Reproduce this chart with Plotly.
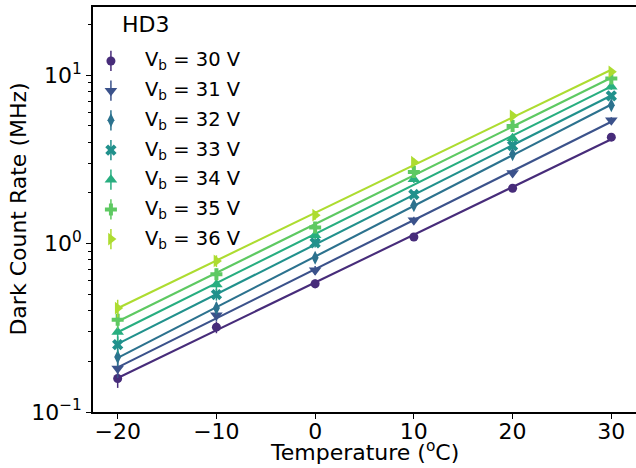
import numpy as np
import plotly.graph_objects as go

# Measured dark count rate of HD3 versus temperature for several bias voltages
temperatures = [-20, -10, 0, 10, 20, 30]  # degrees C
bias_voltages = [30, 31, 32, 33, 34, 35, 36]  # V

rate_30V = [0.158, 0.319, 0.577, 1.094, 2.13, 4.28]
rate_31V = [0.181, 0.375, 0.694, 1.375, 2.62, 5.40]
rate_32V = [0.212, 0.414, 0.823, 1.69, 3.39, 6.63]
rate_33V = [0.251, 0.498, 1.008, 1.955, 3.81, 7.53]
rate_34V = [0.298, 0.571, 1.12, 2.41, 4.21, 8.52]
rate_35V = [0.353, 0.657, 1.245, 2.66, 4.98, 9.55]
rate_36V = [0.414, 0.788, 1.473, 3.04, 5.73, 10.46]
rates = [rate_30V, rate_31V, rate_32V, rate_33V, rate_34V, rate_35V, rate_36V]

# relative uncertainty of each temperature point
rel_error = [0.12, 0.08, 0.06, 0.05, 0.05, 0.04]

colors = ["#472c7a", "#3b528b", "#2c728e", "#21918c", "#28ae80", "#5ec962", "#addc30"]
symbols = ["circle", "triangle-down", "diamond-tall", "x", "triangle-up", "cross", "triangle-right"]
sizes = [9, 11, 10, 10, 11, 10, 11]

FONT = "DejaVu Sans"
FS_AX = 22     # tick labels, axis titles, legend title
FS_LEG = 19.5  # legend entries

fig = go.Figure()

T = np.array(temperatures, dtype=float)

# exponential fits (straight lines on the log axis)
for vals, col in zip(rates, colors):
    slope, icpt = np.polyfit(T, np.log10(vals), 1)
    fit = 10 ** (icpt + slope * T)
    fig.add_trace(go.Scatter(x=T, y=fit, mode="lines",
                             line=dict(color=col, width=2.1),
                             showlegend=False, hoverinfo="skip"))

# data points with error bars
for vals, col, sym, sz, vb in zip(rates, colors, symbols, sizes, bias_voltages):
    err = [v * e for v, e in zip(vals, rel_error)]
    fig.add_trace(go.Scatter(x=temperatures, y=vals, mode="markers",
                             marker=dict(symbol=sym, size=sz, color=col, line=dict(width=0)),
                             error_y=dict(type="data", array=err, visible=True,
                                          color=col, thickness=1.5, width=0),
                             name=f"Vb = {vb} V", showlegend=False))

# hand-built legend on an overlay axis spanning the plot area
leg_x = 0.033
leg_y0 = 0.8667
leg_dy = 0.0733
for i, (col, sym, sz, vb) in enumerate(zip(colors, symbols, sizes, bias_voltages)):
    yy = leg_y0 - i * leg_dy
    fig.add_trace(go.Scatter(x=[leg_x], y=[yy], mode="markers", xaxis="x2", yaxis="y2",
                             marker=dict(symbol=sym, size=sz, color=col, line=dict(width=0)),
                             error_y=dict(type="data", array=[0.025], visible=True,
                                          color=col, thickness=1.5, width=0),
                             showlegend=False, hoverinfo="skip"))
    fig.add_annotation(x=0.0925, y=yy, xref="paper", yref="paper",
                       text=f"V<sub>b</sub> = {vb} V", showarrow=False,
                       xanchor="left", yanchor="middle",
                       font=dict(family=FONT, size=FS_LEG, color="black"))

fig.add_annotation(x=0.050, y=0.9556, xref="paper", yref="paper", text="HD3",
                   showarrow=False, xanchor="left", yanchor="middle",
                   font=dict(family=FONT, size=FS_AX, color="black"))

# axis titles
fig.add_annotation(x=0.5, y=-0.1358, xref="paper", yref="paper",
                   text="Temperature (<sup>o</sup>C)", showarrow=False,
                   xanchor="center", yanchor="bottom",
                   font=dict(family=FONT, size=FS_AX, color="black"))
fig.add_annotation(x=-0.138, y=0.5, xref="paper", yref="paper",
                   text="Dark Count Rate (MHz)", showarrow=False, textangle=-90,
                   xanchor="center", yanchor="middle",
                   font=dict(family=FONT, size=FS_AX, color="black"))

minor_vals = [m * 10.0 ** d for d in (-1, 0, 1) for m in range(2, 10)]

fig.update_layout(
    width=636, height=468,
    margin=dict(l=93, r=0, t=7, b=56),
    paper_bgcolor="white", plot_bgcolor="white",
    font=dict(family=FONT, size=FS_AX, color="black"),
    showlegend=False,
    xaxis=dict(range=[-22.5, 32.5], tickvals=[-20, -10, 0, 10, 20, 30],
               ticktext=["\u221220", "\u221210", "0", "10", "20", "30"],
               ticks="outside", ticklen=5, tickwidth=1.1, tickcolor="black",
               ticklabelstandoff=-6,
               showline=True, linecolor="black", linewidth=1.5, mirror=True,
               showgrid=False, zeroline=False,
               tickfont=dict(family=FONT, size=FS_AX, color="black")),
    yaxis=dict(type="log", range=[-1, 1.404], tickvals=[0.1, 1, 10],
               ticktext=["10<sup>\u22121</sup>", "10<sup>0</sup>", "10<sup>1</sup>"],
               ticks="outside", ticklen=5, tickwidth=1.1, tickcolor="black",
               minor=dict(tickmode="array", tickvals=minor_vals, ticks="outside",
                          ticklen=3, tickwidth=0.9, tickcolor="black", showgrid=False),
               showline=True, linecolor="black", linewidth=1.5, mirror=False,
               showgrid=False, zeroline=False,
               tickfont=dict(family=FONT, size=FS_AX, color="black")),
    xaxis2=dict(overlaying="x", range=[0, 1], visible=False, fixedrange=True),
    yaxis2=dict(overlaying="y", range=[0, 1], visible=False, fixedrange=True),
)

fig.write_html("out.html")
